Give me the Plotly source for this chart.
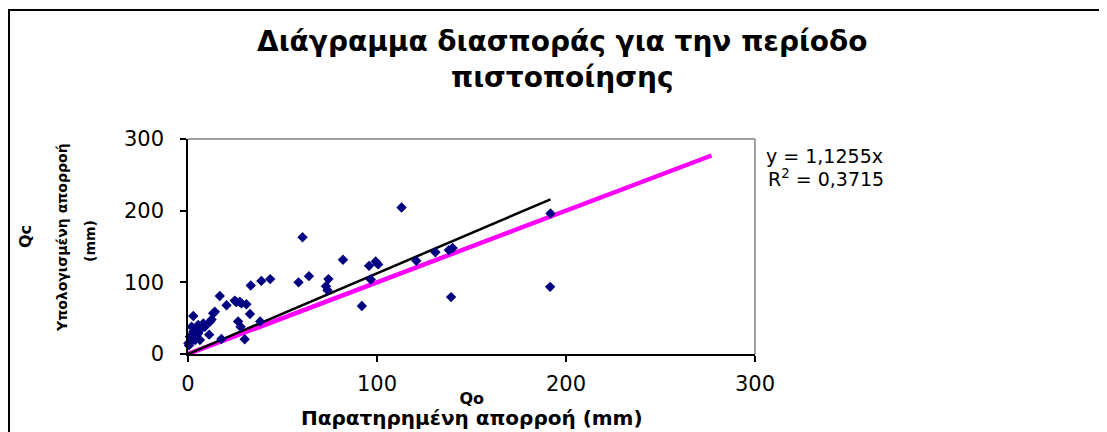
import plotly.graph_objects as go
import numpy as np

# Observed runoff Qo (mm)
qo = [0.2, 0.5, 1.0, 1.5, 1.9, 2.8, 2.8, 3.7, 3.7, 4.6,
      5.4, 5.4, 6.3, 7.2, 8.1, 8.9, 11.2, 11.6, 12.5, 13.3,
      14.2, 16.8, 17.7, 20.4, 24.7, 25.6, 27.4, 28.3, 30.9, 26.5,
      27.8, 30.0, 32.8, 33.2, 38.2, 38.8, 43.5, 58.5, 60.6, 64.0,
      73.0, 73.8, 74.3, 82.0, 92.0, 95.8, 96.7, 99.3, 100.6, 113.0,
      120.8, 130.9, 138.0, 140.0, 139.2, 191.8, 191.6]
# Computed runoff Qc (mm)
qc = [15, 12, 24, 17, 38, 31, 53, 33, 19.5, 26.5,
      28.8, 40.4, 19.5, 36, 42.7, 38, 27, 45, 48, 56.7,
      59, 81, 21, 68, 74.5, 72.5, 72.8, 70.6, 69.4, 45.5,
      38, 20.5, 55.8, 95.6, 45.5, 102, 104.5, 100, 163, 108.6,
      94.5, 89, 104.5, 131.5, 67, 123, 104, 129, 125, 204.5,
      130, 142, 145, 148, 79.4, 196, 93.7]

slope = 1.1255
r2 = 0.3715
identity_x = [0, 277]
identity_y = [0, 277]
tick_vals = [0, 100, 200, 300]
tick_text = ["0", "100", "200", "300"]

title_text = "Διάγραμμα διασποράς για την περίοδο<br>πιστοποίησης"
x_title1 = "Qo"
x_title2 = "Παρατηρημένη απορροή (mm)"
y_title1 = "Qc"
y_title2 = "Υπολογισμένη απορροή"
y_title3 = "(mm)"

fit_x = np.array([0, max(qo)])
fit_y = slope * fit_x

FONT = "DejaVu Sans"

fig = go.Figure()
fig.add_trace(go.Scatter(x=identity_x, y=identity_y, mode="lines",
                         line=dict(color="#FF00FF", width=4.5), cliponaxis=False,
                         showlegend=False, hoverinfo="skip"))
fig.add_trace(go.Scatter(x=fit_x, y=fit_y, mode="lines",
                         line=dict(color="#000000", width=2.5), cliponaxis=False,
                         showlegend=False, hoverinfo="skip"))
fig.add_trace(go.Scatter(x=qo, y=qc, mode="markers",
                         marker=dict(symbol="diamond", size=8, color="#000080",
                                     line=dict(width=0)),
                         cliponaxis=False, showlegend=False))

OFF = 8  # page body margin
W, H = 1107 - OFF, 432 - OFF
L = 188 - OFF
T = 139 - OFF
R = W - (755 - OFF)
B = H - (354 - OFF)
pw = W - L - R
ph = H - T - B

def px(xp):
    return (xp - OFF - L) / pw

def py(yp):
    return (H - B - (yp - OFF)) / ph

shapes = [
    dict(type="line", xref="paper", yref="paper", x0=0, x1=1, y0=1, y1=1,
         line=dict(color="#808080", width=1.5)),
    dict(type="line", xref="paper", yref="paper", x0=1, x1=1, y0=0, y1=1,
         line=dict(color="#808080", width=1.5)),
    dict(type="rect", xref="paper", yref="paper", x0=px(9), x1=px(1140),
         y0=py(470), y1=py(10), line=dict(color="#000000", width=2),
         fillcolor="rgba(0,0,0,0)", layer="below"),
]

annotations = [
    dict(text="<b>" + title_text + "</b>", xref="paper", yref="paper",
         x=px(562), y=py(59), xanchor="center", yanchor="middle",
         showarrow=False, font=dict(family=FONT, size=28, color="#000")),
    dict(text="<b>" + x_title1 + "<br><span style='font-size:20px'>" + x_title2 + "</span></b>",
         xref="paper", yref="paper",
         x=px(472), y=py(409), xanchor="center", yanchor="middle", borderpad=0,
         showarrow=False, font=dict(family=FONT, size=16, color="#000")),
    dict(text="<b>" + y_title1 + "</b>", xref="paper", yref="paper",
         x=px(25), y=py(237), xanchor="center", yanchor="middle", textangle=-90,
         showarrow=False, font=dict(family=FONT, size=16, color="#000")),
    dict(text="<b>" + y_title2 + "</b>", xref="paper", yref="paper",
         x=px(62), y=py(238), xanchor="center", yanchor="middle", textangle=-90,
         showarrow=False, font=dict(family=FONT, size=14, color="#000")),
    dict(text="<b>" + y_title3 + "</b>", xref="paper", yref="paper",
         x=px(90), y=py(241), xanchor="center", yanchor="middle", textangle=-90,
         showarrow=False, font=dict(family=FONT, size=14, color="#000")),
    dict(text="y = " + f"{slope:.4f}".replace(".", ",") + "x", xref="paper", yref="paper",
         x=px(764), y=py(156), xanchor="left", yanchor="middle",
         showarrow=False, font=dict(family=FONT, size=19, color="#000")),
    dict(text="R<sup>2</sup> = " + f"{r2:.4f}".replace(".", ","), xref="paper", yref="paper",
         x=px(766), y=py(178), xanchor="left", yanchor="middle",
         showarrow=False, font=dict(family=FONT, size=19, color="#000")),
]

axis_common = dict(range=[0, 300], tickvals=tick_vals, ticktext=tick_text,
                   showgrid=False, zeroline=False, showline=True,
                   linecolor="#000000", linewidth=1.5, ticks="outside",
                   ticklen=6, tickcolor="#000000", tickwidth=1.5,
                   tickfont=dict(family=FONT, size=21, color="#000"))

fig.update_layout(
    width=W, height=H,
    margin=dict(l=L, r=R, t=T, b=B, pad=0),
    plot_bgcolor="white", paper_bgcolor="white",
    xaxis=dict(**axis_common, ticklabelstandoff=4),
    yaxis=dict(**axis_common, ticklabelstandoff=12),
    shapes=shapes,
    annotations=annotations,
    showlegend=False,
)

fig.write_html("out.html")
